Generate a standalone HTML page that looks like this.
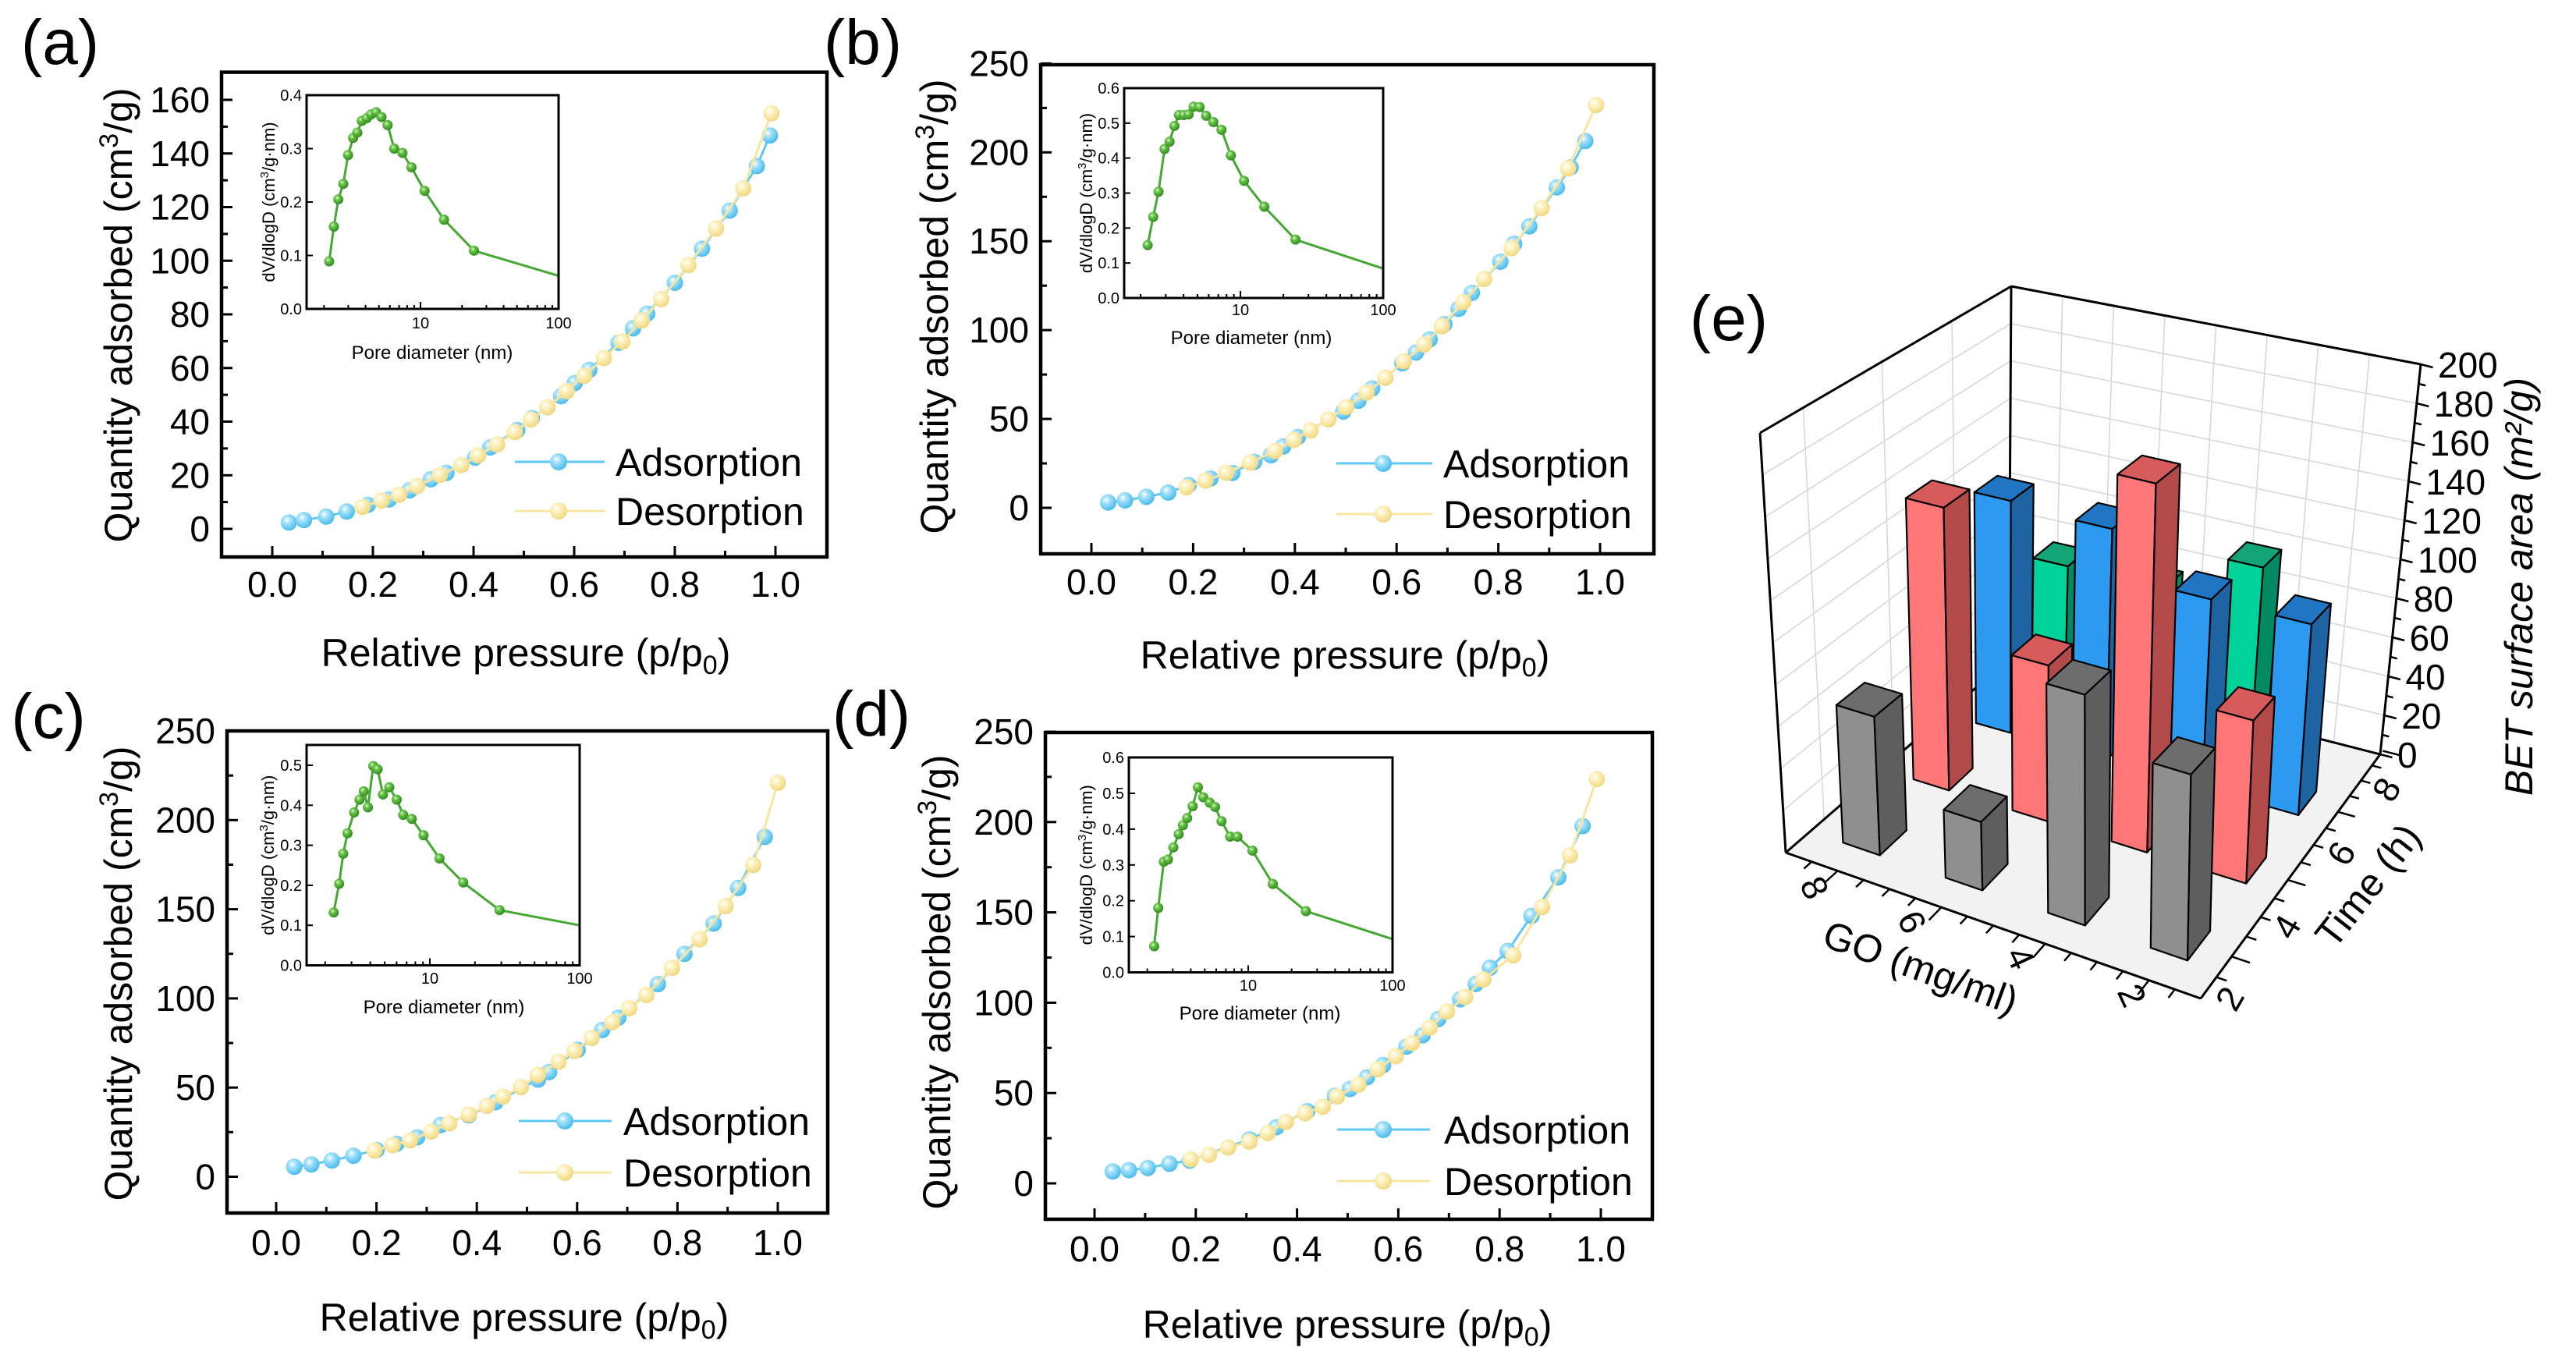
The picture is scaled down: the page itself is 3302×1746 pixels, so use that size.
<!DOCTYPE html>
<html><head><meta charset="utf-8"><title>BET isotherms</title>
<style>
html,body{margin:0;padding:0;background:#fff;}
svg{display:block;font-family:"Liberation Sans",Arial,sans-serif;}
</style></head><body>
<svg id="fig" xmlns="http://www.w3.org/2000/svg" width="3302" height="1746" viewBox="0 0 3302 1746">
<defs>
<radialGradient id="gBlue" cx="0.38" cy="0.35" r="0.68"><stop offset="0" stop-color="#ffffff"/><stop offset="0.3" stop-color="#a8e3fb"/><stop offset="1" stop-color="#45b9eb"/></radialGradient>
<radialGradient id="gYel" cx="0.38" cy="0.35" r="0.68"><stop offset="0" stop-color="#ffffff"/><stop offset="0.3" stop-color="#fff3c4"/><stop offset="1" stop-color="#efd77e"/></radialGradient>
<radialGradient id="gGrn" cx="0.38" cy="0.35" r="0.68"><stop offset="0" stop-color="#d6f5c2"/><stop offset="0.35" stop-color="#66c247"/><stop offset="1" stop-color="#2d871d"/></radialGradient>
</defs>
</svg>
<script>
// ---------------- data: panel (a) ----------------
const aAdsX = [0.033,0.063,0.107,0.148,0.19,0.232,0.273,0.315,0.346,0.403,0.433,0.487,0.516,0.547,0.574,0.601,0.63,0.688,0.717,0.745,0.8,0.854,0.909,0.963,0.989];
const aAdsY = [2.4,3.3,4.6,6.5,9,11,14.4,18.5,20.9,26.6,30.4,36.9,41.3,45.4,49.5,54.4,59.3,69.4,74.8,80.3,91.8,104.5,118.7,135.3,146.7];
const aDesX = [0.179,0.217,0.252,0.288,0.333,0.376,0.409,0.447,0.482,0.514,0.547,0.585,0.62,0.659,0.696,0.734,0.773,0.827,0.882,0.936,0.992];
const aDesY = [8.2,10.6,12.7,16.0,20.1,23.8,27.4,31.5,36.1,40.8,45.4,51.4,57.1,63.7,69.9,77.7,85.7,98.4,112,127,155];
const aPsdX = [2.18,2.36,2.54,2.76,2.99,3.25,3.49,3.76,4.08,4.39,4.77,5.22,5.78,6.45,7.4,8.6,10.7,14.8,24.4,100];
const aPsdY = [0.089,0.154,0.205,0.234,0.288,0.32,0.33,0.352,0.357,0.364,0.368,0.359,0.344,0.30,0.292,0.265,0.221,0.167,0.109,0.062];
// ---------------- data: panel (b) ----------------
const bAdsX = [0.033,0.066,0.108,0.151,0.191,0.234,0.277,0.32,0.353,0.377,0.406,0.495,0.525,0.552,0.611,0.638,0.665,0.694,0.722,0.748,0.804,0.831,0.861,0.915,0.942,0.971];
const bAdsY = [3.0,4.2,6.2,8.6,12.8,16.5,19.7,25.9,29.6,34.5,39.9,54.2,60.3,67.2,81.3,87.4,94.8,103.4,112,121,138.5,148.6,158.4,180.3,191.6,206.4];
const bDesX = [0.187,0.224,0.265,0.312,0.361,0.398,0.431,0.466,0.501,0.541,0.578,0.614,0.654,0.689,0.731,0.772,0.826,0.885,0.937,0.992];
const bDesY = [11.6,15.3,19.7,25.4,32,38.2,43.6,49.8,56.7,64.8,73.2,82.5,91.9,102.2,115.8,128.8,146.1,168.7,190.9,226.6];
const bPsdX = [2.24,2.45,2.67,2.94,3.19,3.45,3.71,4.01,4.34,4.70,5.18,5.75,6.46,7.37,8.57,10.6,14.7,24.3,100];
const bPsdY = [0.151,0.232,0.304,0.426,0.447,0.492,0.523,0.523,0.525,0.547,0.546,0.521,0.503,0.481,0.408,0.335,0.261,0.167,0.084];
// ---------------- data: panel (c) ----------------
const cAdsX = [0.036,0.070,0.111,0.154,0.2,0.24,0.281,0.328,0.384,0.437,0.522,0.544,0.601,0.65,0.682,0.761,0.814,0.872,0.921,0.974];
const cAdsY = [5.6,6.9,9.1,11.8,15,18.5,22.1,29,34.4,41.8,54.5,58.7,71.2,82.3,89.2,108,125,142,162,190.6];
const cDesX = [0.196,0.232,0.267,0.309,0.345,0.384,0.42,0.452,0.488,0.522,0.563,0.595,0.629,0.67,0.704,0.738,0.789,0.844,0.896,0.951,1.0];
const cDesY = [14.7,17.7,20.4,25.3,29.9,34.9,39.8,44.9,50.3,57.2,64.6,70.5,77.8,86.7,94.5,101.9,117.1,133.1,151.8,174.8,220.9];
const cPsdX = [2.28,2.48,2.64,2.82,3.12,3.39,3.62,3.86,4.19,4.48,4.86,5.36,6.01,6.64,7.57,9.07,11.6,16.7,29.2,100];
const cPsdY = [0.132,0.204,0.279,0.330,0.382,0.414,0.435,0.395,0.498,0.49,0.427,0.445,0.414,0.376,0.366,0.325,0.267,0.207,0.138,0.10];
// ---------------- data: panel (d) ----------------
const dAdsX = [0.036,0.068,0.105,0.148,0.188,0.306,0.359,0.42,0.475,0.504,0.538,0.57,0.616,0.648,0.679,0.722,0.753,0.781,0.816,0.863,0.916,0.964];
const dAdsY = [6.6,7.3,8.5,10.9,12.6,24.3,31.1,40,48.5,52.2,58.7,65.5,75.7,82,91,101.9,110.4,119.4,128.6,148.1,169.4,197.8];
const dDesX = [0.19,0.226,0.264,0.306,0.342,0.378,0.416,0.451,0.479,0.521,0.559,0.595,0.627,0.662,0.696,0.732,0.768,0.827,0.884,0.939,0.992];
const dDesY = [13.3,15.8,19.9,23.1,27.9,34,38.8,42.5,48.1,54.6,63.1,70.4,77.7,86.2,95.1,103.2,112.9,126.2,153,181.6,223.8];
const dPsdX = [2.23,2.38,2.6,2.78,3.03,3.3,3.53,3.78,4.12,4.48,4.88,5.41,5.89,6.53,7.49,8.42,10.7,14.8,25.1,100];
const dPsdY = [0.073,0.18,0.309,0.315,0.349,0.386,0.411,0.431,0.464,0.517,0.489,0.474,0.462,0.422,0.379,0.379,0.340,0.247,0.171,0.093];
// ---------------- data: panel (e) ----------------
const goLevels = [2,4,6,8];
const timeLevels = [2,4,6,8];
const betT2 = [84,106,32,66];
const betT4 = [77,177,76,140];
const betT6 = [94,94,117,119];
const betT8 = [0,84,61,61];
const zTickVals = [0,20,40,60,80,100,120,140,160,180,200];
const goTickLabels = ['2','4','6','8'];
const timeTickLabels = ['2','4','6','8'];

const NS = 'http://www.w3.org/2000/svg';
const fig = document.getElementById('fig');
function mk(tag, parent){ const e = document.createElementNS(NS, tag); (parent || fig).appendChild(e); return e; }
function at(e, o){ for (const k in o) e.setAttribute(k, o[k]); return e; }
function line(p, x1, y1, x2, y2, col, w){ const l = mk('line', p); at(l,{x1:x1,y1:y1,x2:x2,y2:y2,stroke:col,'stroke-width':w}); return l; }
function txt(p, x, y, s, size, anchor){ const t = mk('text', p); at(t,{x:x,y:y,'font-size':size,'text-anchor':anchor||'middle',fill:'#000'}); t.textContent = s; return t; }
function span(t, s, extra){ const sp = mk('tspan', t); if (extra) at(sp, extra); sp.textContent = s; return sp; }

const layouts = {
 a:{name:'panel-a',x0:349,x1:994,y0:678,yT:128,yMax:160,fx:284,fy:92.6,fw:776,fh:621.4,yStep:20,yMinor:10,lab:'(a)',labX:77,labY:53,xtX:674,xtY:836,ytX:151,ytY:404,tlY:749,leg:[660,775],legM:716,legY:[592,655],legT:789,ix:393,iy:122,iw:323,ih:274,i10:539,idec:177,iy0:396,iper:685,iyMax:0.4,iLabY:421,ptX:554,ptY:452,iytX:344},
 b:{name:'panel-b',x0:1399,x1:2051,y0:651,yT:81.4,yMax:250,fx:1334,fy:83,fw:786,fh:627,yStep:50,yMinor:25,lab:'(b)',labX:1106,labY:53,xtX:1724,xtY:839,ytX:1197,ytY:393,tlY:746,leg:[1713,1836],legM:1773,legY:[594,659],legT:1850,ix:1441,iy:113,iw:332,ih:269,i10:1590,idec:183,iy0:382,iper:448.3,iyMax:0.6,iLabY:404,ptX:1604,ptY:433,iytX:1392},
 c:{name:'panel-c',x0:354,x1:997,y0:1508.5,yT:937,yMax:250,fx:291,fy:937,fw:770,fh:618,yStep:50,yMinor:25,lab:'(c)',labX:62,labY:917,xtX:672,xtY:1688,ytX:151,ytY:1248,tlY:1593,leg:[665,784],legM:724,legY:[1437,1503],legT:799,ix:393,iy:955,iw:350,ih:282.5,i10:551,idec:192,iy0:1237.5,iper:513,iyMax:0.5,iLabY:1261,ptX:569,ptY:1291,iytX:343},
 d:{name:'panel-d',x0:1403,x1:2052,y0:1517,yT:938,yMax:250,fx:1340,fy:939,fw:778,fh:624,yStep:50,yMinor:25,lab:'(d)',labX:1117,labY:914,xtX:1727,xtY:1697,ytX:1200,ytY:1259,tlY:1601,leg:[1714,1833],legM:1773,legY:[1448,1514],legT:1851,ix:1447,iy:971,iw:338,ih:275.5,i10:1600,idec:185,iy0:1246.5,iper:459,iyMax:0.6,iLabY:1270,ptX:1615,ptY:1299,iytX:1392}
};

function drawPanel(L, adsX, adsY, desX, desY, psdX, psdY){
  const g = mk('g');
  
  
  const sx = v => L.x0 + v*(L.x1-L.x0);
  const sy = v => L.y0 - v*(L.y0-L.yT)/L.yMax;
  const lab = txt(g, L.labX, L.labY+29, L.lab, 82);
  
  
  const yAxis = mk('g', g);
  
  
  for (let v = 0; v <= L.yMax + 1e-6; v += L.yMinor){
    const major = Math.abs(v/L.yStep - Math.round(v/L.yStep)) < 1e-6;
    const y = sy(v);
    line(yAxis, L.fx, y, L.fx + (major?14:8), y, '#000', 3);
    if (major){
      const t = txt(yAxis, L.fx-15, y+16, String(v), 46, 'end');
      
      
    }
  }
  const xAxis = mk('g', g);
  
  
  for (let i = 0; i <= 10; i++){
    const v = i/10, x = sx(v), major = i%2===0;
    line(xAxis, x, L.fy+L.fh, x, L.fy+L.fh-(major?14:8), '#000', 3);
    if (major){
      const t = txt(xAxis, x, L.tlY+16, v.toFixed(1), 46);
      
      
    }
  }
  const xt = txt(g, L.xtX, L.xtY+18, 'Relative pressure (p/p', 50);
  span(xt, '0', {'font-size':34, dy:10});
  span(xt, ')', {dy:-10});
  
  
  const yt = txt(g, 0, 0, 'Quantity adsorbed (cm', 50);
  at(yt, {transform:'translate('+(L.ytX+18)+','+L.ytY+') rotate(-90)'});
  span(yt, '3', {'font-size':34, dy:-18});
  span(yt, '/g)', {dy:18});
  
  
  const sA = mk('g', g);
  
  
  const pl = mk('polyline', sA);
  at(pl, {points: adsX.map((x,i)=>sx(x)+','+sy(adsY[i])).join(' '), fill:'none', stroke:'#5fc9f1', 'stroke-width':3});
  adsX.forEach((x,i)=>{
    const c = mk('circle', sA);
    at(c, {cx:sx(x), cy:sy(adsY[i]), r:10.5, fill:'url(#gBlue)'});
    
    
  });
  const sD = mk('g', g);
  
  
  const pd = mk('polyline', sD);
  at(pd, {points: desX.map((x,i)=>sx(x)+','+sy(desY[i])).join(' '), fill:'none', stroke:'#f6e6a0', 'stroke-width':3});
  desX.forEach((x,i)=>{
    const c = mk('circle', sD);
    at(c, {cx:sx(x), cy:sy(desY[i]), r:10.5, fill:'url(#gYel)'});
    
    
  });
  const fr = mk('rect', g);
  at(fr, {x:L.fx, y:L.fy, width:L.fw, height:L.fh, fill:'none', stroke:'#000', 'stroke-width':4.5});
  
  
  const lg = mk('g', g);
  
  
  [['Adsorption','#5fc9f1','url(#gBlue)'],['Desorption','#f6e6a0','url(#gYel)']].forEach((e,i)=>{
    const it = mk('g', lg);
    
    
    line(it, L.leg[0], L.legY[i], L.leg[1], L.legY[i], e[1], 3);
    const c = mk('circle', it);
    at(c, {cx:L.legM, cy:L.legY[i], r:11, fill:e[2]});
    txt(it, L.legT, L.legY[i]+18, e[0], 50, 'start');
  });
  const ins = mk('g', g);
  
  
  const ixs = d => L.i10 + (Math.log10(d)-1)*L.idec;
  const iys = v => L.iy0 - v*L.iper;
  const ib = L.iy + L.ih;
  for (let k = 0; k <= Math.round(L.iyMax*10); k++){
    const v = k/10, y = iys(v);
    line(ins, L.ix, y, L.ix+8, y, '#000', 2);
    const t = txt(ins, L.ix-6, y+7, v.toFixed(1), 20, 'end');
    
    
  }
  [1,10].forEach(dec => { for (let m = 1; m <= 10; m++){
    const d = dec*m; const x = ixs(d);
    if (x < L.ix || x > L.ix+L.iw+0.5) continue;
    const major = (m===1 || m===10);
    line(ins, x, ib, x, ib-(major?9:5), '#000', 2);
  }});
  [10,100].forEach(d => {
    const t = txt(ins, ixs(d), L.iLabY, String(d), 20);
    
    
  });
  const ipl = mk('polyline', ins);
  at(ipl, {points: psdX.map((x,i)=>ixs(x)+','+iys(psdY[i])).join(' '), fill:'none', stroke:'#45a832', 'stroke-width':3});
  
  
  psdX.forEach((x,i)=>{
    if (x >= 100) return;
    const c = mk('circle', ins);
    at(c, {cx:ixs(x), cy:iys(psdY[i]), r:6.5, fill:'url(#gGrn)'});
    
    
  });
  const ifr = mk('rect', ins);
  at(ifr, {x:L.ix, y:L.iy, width:L.iw, height:L.ih, fill:'none', stroke:'#000', 'stroke-width':3});
  const pt = txt(ins, L.ptX, L.ptY+8, 'Pore diameter (nm)', 24);
  
  
  const iyt = txt(ins, 0, 0, 'dV/dlogD (cm', 22);
  at(iyt, {transform:'translate('+(L.iytX+8)+','+(L.iy+L.ih/2)+') rotate(-90)'});
  span(iyt, '3', {'font-size':15, dy:-8});
  span(iyt, '/g\u00b7nm)', {dy:8});
  
  
}

drawPanel(layouts.a, aAdsX, aAdsY, aDesX, aDesY, aPsdX, aPsdY);
drawPanel(layouts.b, bAdsX, bAdsY, bDesX, bDesY, bPsdX, bPsdY);
drawPanel(layouts.c, cAdsX, cAdsY, cDesX, cDesY, cPsdX, cPsdY);
drawPanel(layouts.d, dAdsX, dAdsY, dDesX, dDesY, dPsdX, dPsdY);

// ---------------- panel (e): 3D bars ----------------
const B00=[2821,1280], B10=[2289,1093], B01=[3051,967], B11=[2575,845];
const T00=[2830,700], T10=[2256,555], T01=[3103,467], T11=[2578,367];
function bil(a,b,c,d,u,v,k){ return (a[k]*(1-u)+b[k]*u)*(1-v) + (c[k]*(1-u)+d[k]*u)*v; }
function Puv(u,v,w){
  const bx=bil(B00,B10,B01,B11,u,v,0), by=bil(B00,B10,B01,B11,u,v,1);
  const tx=bil(T00,T10,T01,T11,u,v,0), ty=bil(T00,T10,T01,T11,u,v,1);
  return [bx+(tx-bx)*w, by+(ty-by)*w];
}
function uOf(go){ return (go-1)/8; }
function vOf(t){ const s=(t-1)/6.88; return s*1.22/(1+0.22*s); }
function P3(go,t,z){ return Puv(uOf(go), vOf(t), z/200); }
function poly(p, pts, fill, stroke, sw){ const e = mk('polygon', p); at(e,{points:pts.map(q=>q[0].toFixed(1)+','+q[1].toFixed(1)).join(' '), fill:fill, stroke:stroke||'none', 'stroke-width':sw||0, 'stroke-linejoin':'round'}); return e; }

const ge = mk('g');


const labE = txt(ge, 2216, 436, '(e)', 82);



const floor = poly(ge, [Puv(0,0,0),Puv(1,0,0),Puv(1,1,0),Puv(0,1,0)], '#f2f2f2');


const lw = poly(ge, [Puv(1,0,0),Puv(1,1,0),Puv(1,1,1),Puv(1,0,1)], '#ffffff');


const bw = poly(ge, [Puv(1,1,0),Puv(0,1,0),Puv(0,1,1),Puv(1,1,1)], '#ffffff');


const grid = mk('g', ge);


zTickVals.forEach(z => {
  const w = z/200; const a=Puv(1,0,w), b=Puv(1,1,w), c=Puv(0,1,w);
  line(grid, a[0],a[1],b[0],b[1],'#d8d8d8',1.6);
  line(grid, b[0],b[1],c[0],c[1],'#d8d8d8',1.6);
});
[2,4,6].forEach(t => { const a=Puv(1,vOf(t),0), b=Puv(1,vOf(t),1); line(grid,a[0],a[1],b[0],b[1],'#d8d8d8',1.6); });
[2,3,4,5,6,7,8].forEach(go => { const a=Puv(uOf(go),1,0), b=Puv(uOf(go),1,1); line(grid,a[0],a[1],b[0],b[1],'#d8d8d8',1.6); });

const edges = mk('g', ge);


[[[1,0,0],[1,0,1]],[[1,1,0],[1,1,1]],[[0,1,0],[0,1,1]],[[1,0,1],[1,1,1]],[[1,1,1],[0,1,1]],[[1,0,0],[0,0,0]],[[0,0,0],[0,1,0]],[[1,0,0],[1,1,0]],[[1,1,0],[0,1,0]]].forEach(e => {
  const a=Puv(...e[0]), b=Puv(...e[1]); line(edges,a[0],a[1],b[0],b[1],'#000',3);
});
const zAx = mk('g', ge);


for (let z = 0; z <= 200; z += 10){
  const p = Puv(0,1,z/200); const major = z%20===0; const len = major?16:9;
  line(zAx, p[0], p[1], p[0]+len*0.97, p[1]+len*0.25, '#000', 2.5);
}
zTickVals.forEach(z => {
  const p = Puv(0,1,z/200);
  const t = txt(zAx, p[0]+22, p[1]+17, String(z), 46, 'start');
  
  
});
const zt = txt(ge, 0, 0, 'BET surface area (m\u00b2/g)', 50);
at(zt, {transform:'translate(3246,752) rotate(-90)', 'font-style':'italic'});


const goAx = mk('g', ge);


for (let go = 1.5; go <= 8.5; go += 0.5){
  const major = go%2===0; const a=Puv(uOf(go),0,0), b=Puv(uOf(go),major?-0.06:-0.035,0);
  line(goAx, a[0],a[1],b[0],b[1],'#000',2.5);
}
const goLabPos = [[2733,1276],[2590,1228],[2451,1182],[2326,1138]];
goTickLabels.forEach((s,i) => {
  const t = txt(goAx, goLabPos[i][0], goLabPos[i][1]+16, s, 46);
  at(t, {transform:'rotate(65,'+goLabPos[i][0]+','+goLabPos[i][1]+')'});
  
  
});
const gt = txt(ge, 0, 0, 'GO (mg/ml)', 50);
at(gt, {transform:'translate(2462,1240) rotate(20)', dy:'0.35em'});


const tAx = mk('g', ge);


for (let t = 1.5; t <= 8; t += 0.5){
  const major = t%2===0; const a=Puv(0,vOf(t),0), b=Puv(major?-0.045:-0.025,vOf(t),0);
  line(tAx, a[0],a[1],b[0],b[1],'#000',2.5);
}
const tLabPos = [[2858,1280],[2931,1188],[3001,1094],[3059,1012]];
timeTickLabels.forEach((s,i) => {
  const t = txt(tAx, tLabPos[i][0], tLabPos[i][1]+16, s, 46);
  at(t, {transform:'rotate(-60,'+tLabPos[i][0]+','+tLabPos[i][1]+')'});
  
  
});
const tt = txt(ge, 0, 0, 'Time (h)', 50);
at(tt, {transform:'translate(3035,1135) rotate(-52)', dy:'0.35em'});



const pals = [
  {f:'#8f8f8f', s:'#5e5e5e', t:'#6d6d6d', n:'gray'},
  {f:'#ff7676', s:'#b24a4a', t:'#d65b5b', n:'red'},
  {f:'#2b9af0', s:'#1e64a3', t:'#2176c4', n:'blue'},
  {f:'#00d39a', s:'#008a62', t:'#14a577', n:'green'}
];
const series = [betT2, betT4, betT6, betT8];
const bars = [];
timeLevels.forEach((t,ti) => goLevels.forEach((go,gi) => bars.push({go:go, t:t, z:series[ti][gi], pal:pals[ti]})));
bars.sort((a,b) => (uOf(b.go)+vOf(b.t)) - (uOf(a.go)+vOf(a.t)));
const hw = 0.36, hv = 0.37;
const barG = mk('g', ge);


bars.forEach(b => {
  if (!(b.z > 0)) return;
  const g = mk('g', barG);
  
  
  const g1=b.go+hw, g0=b.go-hw, t0=b.t-hv, t1=b.t+hv;
  poly(g, [P3(g1,t0,0),P3(g0,t0,0),P3(g0,t0,b.z),P3(g1,t0,b.z)], b.pal.f, '#000', 2.2);
  poly(g, [P3(g0,t0,0),P3(g0,t1,0),P3(g0,t1,b.z),P3(g0,t0,b.z)], b.pal.s, '#000', 2.2);
  poly(g, [P3(g1,t0,b.z),P3(g0,t0,b.z),P3(g0,t1,b.z),P3(g1,t1,b.z)], b.pal.t, '#000', 2.2);
});
</script>
</body></html>
